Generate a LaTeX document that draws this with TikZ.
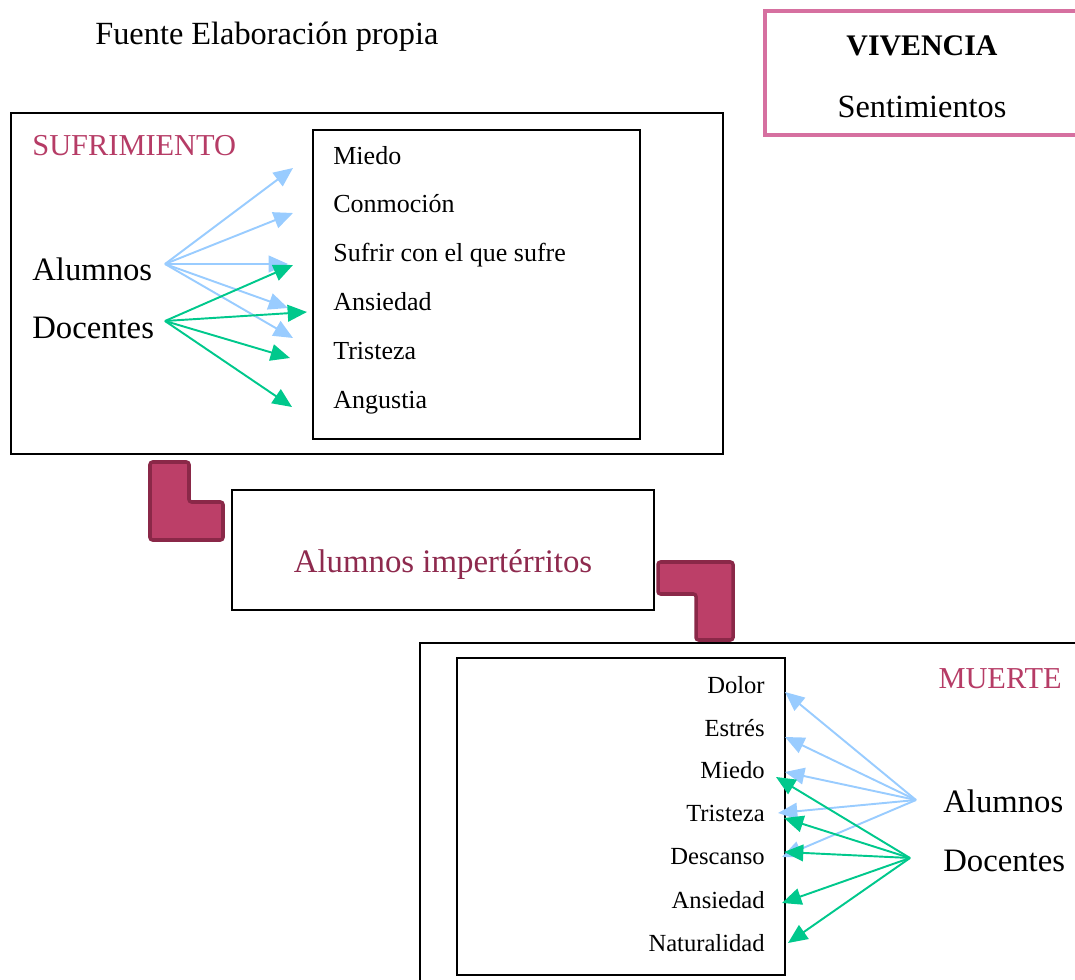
\documentclass[tikz,border=0pt]{standalone}
\usepackage{fontspec}
\setmainfont{Liberation Serif}
\usetikzlibrary{arrows.meta,calc}

\definecolor{vivpink}{RGB}{214,112,160}
\definecolor{titlered}{RGB}{182,60,102}
\definecolor{darkred}{RGB}{142,42,78}
\definecolor{blockfill}{RGB}{188,63,104}
\definecolor{blockline}{RGB}{138,40,72}
\definecolor{alublue}{RGB}{153,204,255}
\definecolor{docgreen}{RGB}{0,200,140}

\begin{document}
\begin{tikzpicture}[x=0.2mm,y=-0.2mm,
  item/.style={inner sep=0pt,font=\fontsize{14}{16}\selectfont},
  who/.style={inner sep=0pt,font=\fontsize{18.6}{22}\selectfont},
  title/.style={inner sep=0pt,text=titlered,font=\fontsize{17.3}{20}\selectfont},
  blu/.style={alublue,line width=1.1pt,-{Triangle[length=11pt,width=9.5pt]}},
  grn/.style={docgreen,line width=1.1pt,-{Triangle[length=11pt,width=9.5pt]}},
  lblock/.style={fill=blockfill,draw=blockline,line width=2pt,rounded corners=1.5pt}]
\useasboundingbox (0,0) rectangle (1075,980);
%% header
\node[inner sep=0pt,anchor=base west,font=\fontsize{18.4}{22}\selectfont] (src) at (95,45) {Fuente Elaboración propia};
\draw[vivpink,line width=2.3pt,fill=white] (765,11) rectangle (1095,135);
\node[inner sep=0pt,anchor=base,font=\fontsize{17}{20}\selectfont\bfseries] (viv) at (922,56) {VIVENCIA};
\node[inner sep=0pt,anchor=base,font=\fontsize{18.4}{22}\selectfont] (sent) at (922,118) {Sentimientos};
%% sufrimiento
\draw[line width=1.2pt] (11,113) rectangle (723,454);
\draw[line width=0.6pt] (313,130) rectangle (640,439);
\node[title,anchor=base west] (sufr) at (32,156) {SUFRIMIENTO};
\node[item,anchor=base west,font=\fontsize{14.8}{17}\selectfont] (miedoA) at (333,165) {Miedo};
\node[item,anchor=base west,font=\fontsize{14.8}{17}\selectfont] (conmA) at (333,213) {Conmoción};
\node[item,anchor=base west,font=\fontsize{14.8}{17}\selectfont] (sufrA) at (333,262) {Sufrir con el que sufre};
\node[item,anchor=base west,font=\fontsize{14.8}{17}\selectfont] (ansA) at (333,311) {Ansiedad};
\node[item,anchor=base west,font=\fontsize{14.8}{17}\selectfont] (trisA) at (333,359) {Tristeza};
\node[item,anchor=base west,font=\fontsize{14.8}{17}\selectfont] (angA) at (333,408) {Angustia};
\node[who,anchor=base west] (aluA) at (32,280) {Alumnos};
\node[who,anchor=base west] (docA) at (32,339) {Docentes};
\coordinate (aluAo) at (165,264);
\coordinate (docAo) at (165,321);
\draw[blu] (aluAo) -- ($(miedoA.base west)+(-40,3)$);
\draw[blu] (aluAo) -- ($(conmA.base west)+(-40,0)$);
\draw[blu] (aluAo) -- ($(sufrA.base west)+(-45,2)$);
\draw[blu] (aluAo) -- ($(ansA.base west)+(-45,-3)$);
\draw[blu] (aluAo) -- ($(trisA.base west)+(-40,-21)$);
\draw[grn] (docAo) -- ($(sufrA.base west)+(-40,3)$);
\draw[grn] (docAo) -- ($(ansA.base west)+(-26,1)$);
\draw[grn] (docAo) -- ($(trisA.base west)+(-43,-1)$);
\draw[grn] (docAo) -- ($(angA.base west)+(-41,-1)$);
%% middle
\draw[lblock] (150,462) -- (189,462) -- (189,502) -- (223,502) -- (223,540) -- (150,540) -- cycle;
\draw[line width=0.8pt] (232,490) rectangle (654,610);
\node[inner sep=0pt,anchor=base,text=darkred,font=\fontsize{18.7}{22}\selectfont] (imp) at (443,572) {Alumnos impertérritos};
\draw[lblock] (658,562) -- (733,562) -- (733,640) -- (696,640) -- (696,594) -- (658,594) -- cycle;
%% muerte
\draw[line width=1.2pt] (1095,643) -- (420,643) -- (420,995);
\draw[line width=0.6pt] (457,658) rectangle (785,975);
\node[title,anchor=base east] (muer) at (1062,688) {MUERTE};
\node[item,anchor=base east] (dolB) at (765,693) {Dolor};
\node[item,anchor=base east] (estB) at (765,736) {Estrés};
\node[item,anchor=base east] (miedoB) at (765,778) {Miedo};
\node[item,anchor=base east] (trisB) at (765,821) {Tristeza};
\node[item,anchor=base east] (descB) at (765,864) {Descanso};
\node[item,anchor=base east] (ansB) at (765,908) {Ansiedad};
\node[item,anchor=base east] (natB) at (765,951) {Naturalidad};
\node[who,anchor=base west] (aluB) at (943,812) {Alumnos};
\node[who,anchor=base west] (docB) at (943,871) {Docentes};
\coordinate (aluBo) at ($(aluB.base west)+(-27,-12)$);
\coordinate (docBo) at ($(docB.base west)+(-33,-13)$);
\draw[blu] (aluBo) -- ($(dolB.base east)+(20,-1)$);
\draw[blu] (aluBo) -- ($(estB.base east)+(20,1)$);
\draw[blu] (aluBo) -- ($(miedoB.base east)+(20,-6)$);
\draw[blu] (aluBo) -- ($(trisB.base east)+(13,-8)$);
\draw[blu] (aluBo) -- ($(descB.base east)+(17,-7)$);
\draw[grn] (docBo) -- ($(miedoB.base east)+(11,-1)$);
\draw[grn] (docBo) -- ($(trisB.base east)+(19,-3)$);
\draw[grn] (docBo) -- ($(descB.base east)+(19,-12)$);
\draw[grn] (docBo) -- ($(ansB.base east)+(17,-5)$);
\draw[grn] (docBo) -- ($(natB.base east)+(23,-8)$);
\end{tikzpicture}
\end{document}
